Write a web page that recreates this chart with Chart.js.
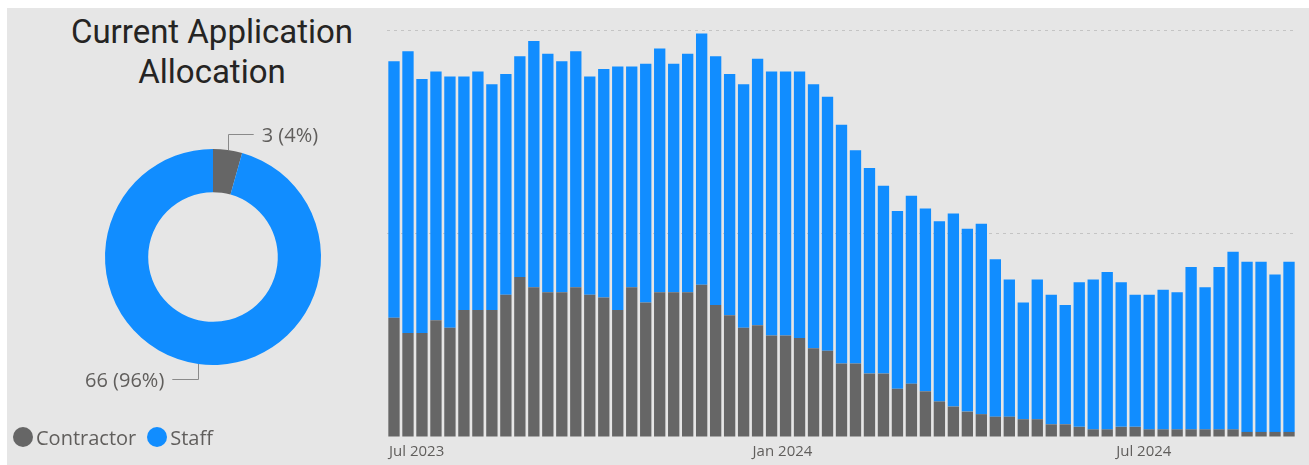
<!DOCTYPE html>
<html>
<head>
<meta charset="utf-8">
<script src="https://cdn.jsdelivr.net/npm/chart.js@4.4.1/dist/chart.umd.min.js"></script>
<style>
  body { margin: 0; width: 1309px; height: 465px; background: #ffffff; position: relative; overflow: hidden; }
  #panel { position: absolute; left: 7px; top: 8px; width: 1302px; height: 457px; background: #e6e6e6; }
  #title { position: absolute; left: 0; top: 12px; width: 424px; text-align: center;
           font: 33px/40px Roboto, sans-serif; color: #252423; }
  .box { position: absolute; }
  #legend { position: absolute; left: 13px; top: 424px; height: 26px; font: 20px 'Open Sans', sans-serif; color: #605e5c;
            display: flex; align-items: center; }
  #legend span.dot { display: inline-block; width: 20px; height: 20px; border-radius: 50%; margin-right: 3px; }
  #legend span.item { margin-right: 11px; }
</style>
</head>
<body>
<div id="panel"></div>
<div id="title">Current Application<br>Allocation</div>
<div class="box" style="left:0;top:0;width:380px;height:465px"><canvas id="donutChart"></canvas></div>
<div id="legend"></div>
<div class="box" style="left:380px;top:0;width:929px;height:465px"><canvas id="barChart"></canvas></div>
<script>
// Current allocation (donut)
const allocLabels = ['Contractor', 'Staff'];
const allocValues = [3, 66];

// Weekly history (week starting)
const weeks = [
  '2023-07-03','2023-07-10','2023-07-17','2023-07-24','2023-07-31','2023-08-07','2023-08-14','2023-08-21','2023-08-28',
  '2023-09-04','2023-09-11','2023-09-18','2023-09-25','2023-10-02','2023-10-09','2023-10-16','2023-10-23','2023-10-30',
  '2023-11-06','2023-11-13','2023-11-20','2023-11-27','2023-12-04','2023-12-11','2023-12-18','2023-12-25',
  '2024-01-01','2024-01-08','2024-01-15','2024-01-22','2024-01-29','2024-02-05','2024-02-12','2024-02-19','2024-02-26',
  '2024-03-04','2024-03-11','2024-03-18','2024-03-25','2024-04-01','2024-04-08','2024-04-15','2024-04-22','2024-04-29',
  '2024-05-06','2024-05-13','2024-05-20','2024-05-27','2024-06-03','2024-06-10','2024-06-17','2024-06-24',
  '2024-07-01','2024-07-08','2024-07-15','2024-07-22','2024-07-29','2024-08-05','2024-08-12','2024-08-19','2024-08-26',
  '2024-09-02','2024-09-09','2024-09-16','2024-09-23'
];
const contractor = [
  47, 41, 41, 46, 43, 50, 50, 50, 56, 63, 59, 57, 57, 59, 56, 55, 50, 59, 53, 57, 57, 57, 60, 52, 48, 43,
  44, 40, 40, 39, 35, 34, 29, 29, 25, 25, 19, 21, 18, 14, 12, 10, 9, 8, 8, 7, 7, 5, 5, 4, 3, 3,
  4, 4, 3, 3, 3, 3, 3, 3, 3, 2, 2, 2, 2
];
const staff = [
  101, 111, 100, 98, 99, 92, 94, 89, 87, 87, 97, 94, 91, 93, 86, 90, 96, 87, 94, 96, 90, 94, 99, 98, 95, 96,
  105, 104, 104, 105, 104, 100, 94, 84, 81, 74, 70, 74, 72, 71, 76, 72, 75, 62, 54, 46, 55, 51, 47, 57, 59, 62,
  57, 52, 53, 55, 54, 64, 56, 64, 70, 67, 67, 62, 67
];
const tickWeeks = ['2023-07-03', '2024-01-01', '2024-07-01'];
const tickLabels = ['Jul 2023', 'Jan 2024', 'Jul 2024'];
const gridValues = [80, 160];

const GREY = '#666666';
const BLUE = '#118dff';
const LABEL = '#605e5c';

// legend
const legend = document.getElementById('legend');
[GREY, BLUE].forEach((c, i) => {
  const dot = document.createElement('span');
  dot.className = 'dot';
  dot.style.background = c;
  const txt = document.createElement('span');
  txt.className = 'item';
  txt.textContent = allocLabels[i];
  legend.appendChild(dot);
  legend.appendChild(txt);
});

// leader lines + "value (pct%)" labels around the donut
const donutLabels = {
  id: 'donutLabels',
  afterDatasetsDraw(chart) {
    const { ctx } = chart;
    const meta = chart.getDatasetMeta(0);
    const data = chart.data.datasets[0].data;
    const total = data.reduce((a, b) => a + b, 0);
    ctx.save();
    ctx.font = "20px 'Open Sans', sans-serif";
    ctx.textBaseline = 'middle';
    meta.data.forEach((arc, i) => {
      const mid = (arc.startAngle + arc.endAngle) / 2;
      const r = arc.outerRadius;
      const px = arc.x + Math.cos(mid) * r;
      const py = arc.y + Math.sin(mid) * r;
      const up = Math.sin(mid) < 0;
      const ey = arc.y + (up ? -(r + 15) : (r + 14));
      const dir = Math.cos(mid) >= 0 ? 1 : -1;
      const ex = px + dir * 26;
      ctx.strokeStyle = '#8a8a8a';
      ctx.lineWidth = 1;
      ctx.beginPath();
      ctx.moveTo(Math.round(px) + 0.5, py);
      ctx.lineTo(Math.round(px) + 0.5, Math.round(ey) + 0.5);
      ctx.lineTo(ex, Math.round(ey) + 0.5);
      ctx.stroke();
      const pct = Math.round(data[i] / total * 100);
      ctx.fillStyle = LABEL;
      ctx.textAlign = dir > 0 ? 'left' : 'right';
      ctx.fillText(`${data[i]} (${pct}%)`, ex + dir * 8, ey + 2);
    });
    ctx.restore();
  }
};

new Chart(document.getElementById('donutChart'), {
  type: 'doughnut',
  data: {
    labels: allocLabels,
    datasets: [{ data: allocValues, backgroundColor: [GREY, BLUE], borderWidth: 0 }]
  },
  options: {
    responsive: true,
    maintainAspectRatio: false,
    animation: false,
    cutout: '60%',
    layout: { padding: { left: 105, right: 59, top: 149, bottom: 100 } },
    plugins: { legend: { display: false }, tooltip: { enabled: false } }
  },
  plugins: [donutLabels]
});

new Chart(document.getElementById('barChart'), {
  type: 'bar',
  data: {
    labels: weeks,
    datasets: [
      { label: 'Contractor', data: contractor, backgroundColor: GREY },
      { label: 'Staff', data: staff, backgroundColor: BLUE }
    ]
  },
  options: {
    responsive: true,
    maintainAspectRatio: false,
    animation: false,
    layout: { padding: { left: 7, right: 13, top: 8, bottom: 0 } },
    datasets: { bar: { categoryPercentage: 1, barPercentage: 0.81 } },
    plugins: { legend: { display: false }, tooltip: { enabled: false } },
    scales: {
      x: {
        stacked: true,
        grid: { display: false, drawTicks: false },
        border: { display: false },
        afterFit: s => { s.height = 28; },
        ticks: {
          autoSkip: false,
          maxRotation: 0,
          align: 'start',
          labelOffset: -5,
          padding: 6,
          color: LABEL,
          font: { family: "'Open Sans', sans-serif", size: 15 },
          callback: (v, i) => {
            const k = tickWeeks.indexOf(weeks[i]);
            return k >= 0 ? tickLabels[k] : '';
          }
        }
      },
      y: {
        stacked: true,
        min: 0,
        max: 169,
        ticks: { display: false, stepSize: 80 },
        grid: {
          drawTicks: false,
          color: c => (c.tick && gridValues.includes(c.tick.value)) ? '#c4c4c4' : 'rgba(0,0,0,0)'
        },
        border: { display: false, dash: [3, 4] }
      }
    }
  }
});
</script>
</body>
</html>
